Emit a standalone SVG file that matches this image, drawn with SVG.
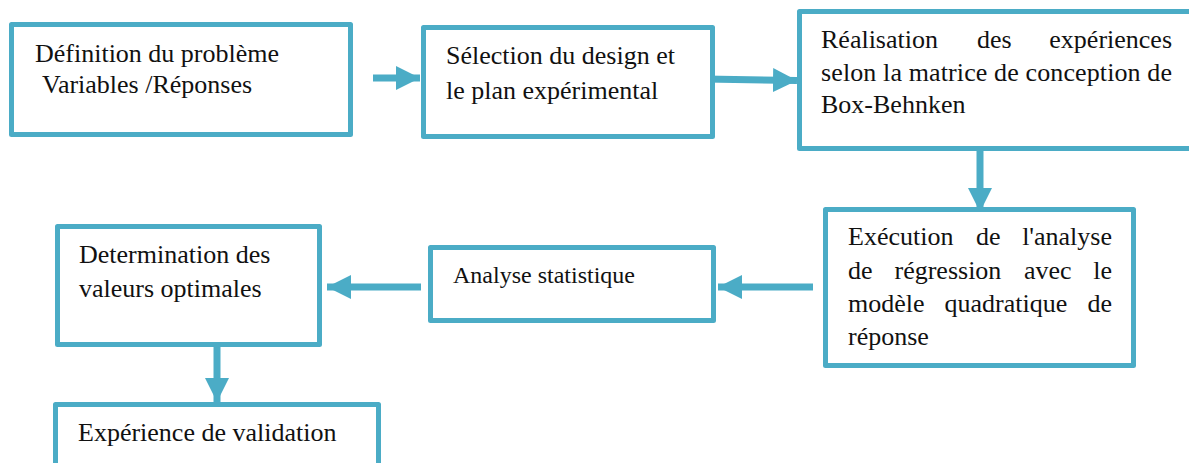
<svg xmlns="http://www.w3.org/2000/svg" width="1189" height="463" viewBox="0 0 1189 463">
<style>
.box{fill:#fff;stroke:#4BACC6;stroke-width:5;stroke-linejoin:round}
.t{font-family:'Liberation Serif',Tinos,'Times New Roman','DejaVu Serif',serif;font-size:26px;fill:#111}
.s{font-size:24px}
.e{text-anchor:end}
.c{stroke:#4BACC6;stroke-width:7;fill:none}
</style>
<defs>
<marker id="ah" viewBox="0 0 24 24" refX="24" refY="12" markerWidth="24" markerHeight="24" markerUnits="userSpaceOnUse" orient="auto">
<path d="M0,0 L24,12 L0,24 Z" fill="#4BACC6"/>
</marker>
</defs>
<rect width="1189" height="463" fill="#fff"/>
<g id="connectors">
<line class="c" x1="373" y1="78" x2="420" y2="78" marker-end="url(#ah)"/>
<line class="c" x1="705" y1="79" x2="797" y2="80.5" marker-end="url(#ah)"/>
<line class="c" x1="980" y1="150" x2="980" y2="212" marker-end="url(#ah)"/>
<line class="c" x1="813" y1="287" x2="718" y2="287" marker-end="url(#ah)"/>
<line class="c" x1="421" y1="287" x2="327" y2="287" marker-end="url(#ah)"/>
<line class="c" x1="217" y1="346" x2="217" y2="402" marker-end="url(#ah)"/>
</g>
<g id="n1">
<rect class="box" x="11.5" y="24.5" width="339" height="110"/>
<text class="t" x="35" y="62">Définition du problème</text>
<text class="t" x="42" y="93">Variables /Réponses</text>
</g>
<g id="n2">
<rect class="box" x="423.5" y="27.5" width="289" height="109"/>
<text class="t" x="446" y="64">Sélection du design et</text>
<text class="t" x="446" y="99">le plan expérimental</text>
</g>
<g id="n3">
<rect class="box" x="799.5" y="11.5" width="400" height="137"/>
<text class="t" x="821" y="48">Réalisation</text>
<text class="t" x="977" y="48">des</text>
<text class="t e" x="1172" y="48">expériences</text>
<text class="t" x="821" y="81" textLength="351" lengthAdjust="spacing">selon la matrice de conception de</text>
<text class="t" x="821" y="113">Box-Behnken</text>
</g>
<g id="n4">
<rect class="box" x="825.5" y="209.5" width="308" height="156"/>
<text class="t" x="848" y="245">Exécution</text>
<text class="t" x="976" y="245">de</text>
<text class="t e" x="1112" y="245">l'analyse</text>
<text class="t" x="848" y="279">de</text>
<text class="t" x="894.5" y="279">régression</text>
<text class="t" x="1024" y="279">avec</text>
<text class="t e" x="1112" y="279">le</text>
<text class="t" x="848" y="312">modèle</text>
<text class="t" x="944.5" y="312">quadratique</text>
<text class="t e" x="1112" y="312">de</text>
<text class="t" x="848" y="345">réponse</text>
</g>
<g id="n5">
<rect class="box" x="430.5" y="247.5" width="283" height="73"/>
<text class="t s" x="453" y="283">Analyse statistique</text>
</g>
<g id="n6">
<rect class="box" x="57.5" y="226.5" width="262" height="118"/>
<text class="t" x="79" y="263">Determination des</text>
<text class="t" x="79" y="297">valeurs optimales</text>
</g>
<g id="n7">
<rect class="box" x="55.5" y="404.5" width="323" height="80"/>
<text class="t" x="78" y="441">Expérience de validation</text>
</g>
</svg>
